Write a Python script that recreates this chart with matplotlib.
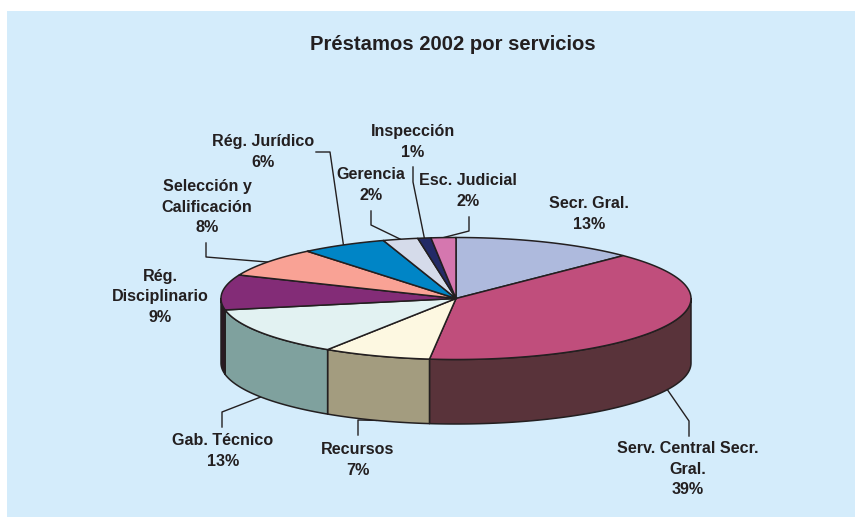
import numpy as np
import matplotlib
matplotlib.use('Agg')
import matplotlib.pyplot as plt
from matplotlib.patches import Polygon, Rectangle

plt.rcParams['font.family'] = ['Liberation Sans', 'DejaVu Sans']

names = ['Secr. Gral.', 'Serv. Central Secr.\nGral.', 'Recursos', 'Gab. Técnico',
         'Rég.\nDisciplinario', 'Selección y\nCalificación', 'Rég. Jurídico',
         'Gerencia', 'Inspección', 'Esc. Judicial']
values = [12.6, 39.2, 7.4, 12.8, 9.3, 7.8, 5.9, 2.4, 0.9, 1.7]

top_colors = ['#AEBADD', '#C04E7C', '#FDF8E1', '#E2F2F2', '#832C77',
              '#F9A295', '#0085C6', '#D5DBEA', '#232A66', '#D577AF']
side_colors = ['#6E7590', '#59333A', '#A39C7F', '#7FA19E', '#2A1A22',
               '#9A635C', '#00527A', '#85899A', '#151A40', '#84496C']
ink = '#231F20'

# pie geometry in pixels
cx, cy, rx, ry, depth = 456, 298.5, 235, 61, 64.5

# label centre, elbow of the leader (None = no leader), leader start
labels = [
    ((589, 214), None, None),
    ((688, 469), (689, 421), (689, 436)),
    ((358, 460), (358, 420), (358, 435)),
    ((223, 451), (222, 412), (222, 427)),
    ((160, 297), None, None),
    ((207, 207), (206, 257), (206, 243)),
    ((263, 152), (330, 152), (316, 152)),
    ((371, 185), (371, 225), (371, 211)),
    ((413, 142), (413, 182), (413, 167)),
    ((468, 191), (469, 231), (469, 217)),
]
outside_bottom = [False, True, True, True, False, False, False, False, False, False]


def rim(theta, dy=0):
    # theta: radians clockwise from the top of the ellipse
    return np.column_stack([cx + rx * np.sin(theta), cy - ry * np.cos(theta) + dy])


fig = plt.figure(figsize=(8.59, 5.17), dpi=100)
ax = fig.add_axes([0, 0, 1, 1])
ax.set_xlim(0, 859)
ax.set_ylim(517, 0)
ax.axis('off')

ax.add_patch(Rectangle((7, 11), 848, 506, fc='#D4ECFB', ec='none', zorder=0))

edges = np.cumsum([0] + values) / sum(values) * 2 * np.pi

# side walls, only the front half of the cake shows
for i in range(len(values)):
    a = max(edges[i], np.pi / 2)
    b = min(edges[i + 1], 3 * np.pi / 2)
    if b <= a:
        continue
    t = np.linspace(a, b, 80)
    pts = np.vstack([rim(t), rim(t, depth)[::-1]])
    ax.add_patch(Polygon(pts, closed=True, fc=side_colors[i], ec=ink, lw=1.1,
                         joinstyle='round', zorder=2))

# top of the cake
for i in range(len(values)):
    t = np.linspace(edges[i], edges[i + 1], 120)
    pts = np.vstack([[cx, cy], rim(t)])
    ax.add_patch(Polygon(pts, closed=True, fc=top_colors[i], ec=ink, lw=1.1,
                         joinstyle='round', zorder=3))

# labels and leaders
for i, name in enumerate(names):
    pos, elbow, start = labels[i]
    ax.text(pos[0], pos[1], f'{name}\n{values[i]:.0f}%', ha='center', va='center',
            fontsize=11.6, fontweight='bold', color=ink, linespacing=1.46, zorder=5)
    if elbow is None:
        continue
    mid = (edges[i] + edges[i + 1]) / 2
    end = rim(np.array([mid]), depth if outside_bottom[i] else 0)[0]
    ax.plot([start[0], elbow[0], end[0]], [start[1], elbow[1], end[1]],
            color=ink, lw=1.0, zorder=1)

ax.text(453, 44.5, 'Préstamos 2002 por servicios', ha='center', va='center',
        fontsize=14.6, fontweight='bold', color=ink, zorder=5)

fig.savefig('out.png', dpi=100, facecolor='white')
